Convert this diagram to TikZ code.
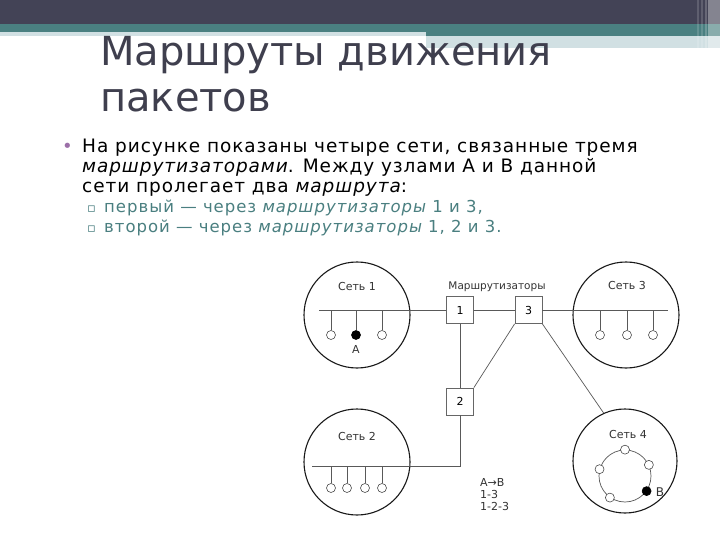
\documentclass[tikz,border=0pt]{standalone}
\usepackage{fontspec}
\setmainfont{DejaVu Sans}
\newfontfamily\bodyfont[LetterSpace=5]{DejaVu Sans}
\newfontfamily\subfont[LetterSpace=6]{DejaVu Sans}
\definecolor{hdrdark}{HTML}{434356}
\definecolor{hdrteal}{HTML}{4A8081}
\definecolor{hdrlight}{HTML}{D1E0E3}
\definecolor{titlecol}{HTML}{3F3F4E}
\definecolor{bulletcol}{HTML}{9C6FA8}
\definecolor{subcol}{HTML}{4A7F80}
\begin{document}
\begin{tikzpicture}[x=1pt,y=-1pt,
  net/.style={circle, draw=black!90, line width=1.1pt, minimum size=106pt, inner sep=0pt},
  router/.style={draw=black!60, line width=0.8pt, minimum size=27pt, inner sep=0pt, fill=white, font=\fontsize{11}{12}\selectfont},
  host/.style={circle, draw=black!70, line width=0.6pt, fill=white, minimum size=9pt, inner sep=0pt},
  hostfill/.style={host, fill=black, draw=black},
  wire/.style={draw=black!65, line width=0.7pt},
  lbl/.style={font=\fontsize{11}{12}\selectfont, text=black!80, inner sep=0pt},
  bodytxt/.style={anchor=base west, inner sep=0pt, font=\bodyfont\fontsize{18.5}{22}\selectfont},
  subtxt/.style={anchor=base west, inner sep=0pt, text=subcol, font=\subfont\fontsize{16.5}{18}\selectfont}]
\useasboundingbox (0,0) rectangle (720,540);
\fill[white] (0,0) rectangle (720,540);
% header bars
\fill[hdrdark] (0,0) rectangle (720,24);
\fill[hdrteal] (0,24) rectangle (720,32);
\fill[hdrteal] (426,32) rectangle (720,36);
\fill[hdrlight] (0,32) rectangle (426,36);
\fill[hdrlight] (426,36) rectangle (720,48);
\fill[white,opacity=0.35] (708,0) rectangle (720,48);
\fill[white,opacity=0.15] (697,0) rectangle (699,48);
\fill[white,opacity=0.15] (701,0) rectangle (703,48);
\fill[white,opacity=0.2] (705,0) rectangle (707,48);
% title
\node[anchor=base west, inner sep=0pt, text=titlecol, font=\fontsize{40}{46}\selectfont] (title1) at (100,66) {Маршруты движения};
\node[anchor=base west, inner sep=0pt, text=titlecol, font=\fontsize{40}{46}\selectfont] (title2) at (100,112) {пакетов};
% body
\node[anchor=base west, inner sep=0pt, text=bulletcol, font=\fontsize{18}{22}\selectfont] (bul) at (62,153) {•};
\node[bodytxt] (l1) at (82,153) {На рисунке показаны четыре сети, связанные тремя};
\node[bodytxt] (l2) at (82,173) {{\itshape маршрутизаторами}. Между узлами А и В данной};
\node[bodytxt] (l3) at (82,193) {сети пролегает два {\itshape маршрута}:};
\node[anchor=base west, inner sep=0pt, text=subcol, font=\fontsize{13}{16}\selectfont] (sb1) at (87,213) {▫};
\node[subtxt] (s1) at (104,213) {первый — через {\itshape маршрутизаторы} 1 и 3,};
\node[anchor=base west, inner sep=0pt, text=subcol, font=\fontsize{13}{16}\selectfont] (sb2) at (87,233) {▫};
\node[subtxt] (s2) at (104,233) {второй — через {\itshape маршрутизаторы} 1, 2 и 3.};
% networks
\node[net] (n1) at (357,315) {};
\node[net] (n3) at (626,315) {};
\node[net] (n2) at (357,462) {};
\node[net, minimum size=104pt] (n4) at (625,461) {};
\node[lbl] (n1l) at (357,286) {Сеть 1};
\node[lbl] (n3l) at (627,285) {Сеть 3};
\node[lbl] (n2l) at (357,436) {Сеть 2};
\node[lbl] (n4l) at (628,434) {Сеть 4};
\node[lbl, font=\fontsize{10.5}{12}\selectfont] (rl) at (497,287) {Маршрутизаторы};
% routers
\node[router] (r1) at (460,310) {1};
\node[router] (r3) at (528.5,310) {3};
\node[router] (r2) at (460,401.5) {2};
% buses
\coordinate (bus1w) at (319,310);
\coordinate (bus3e) at (668,310);
\coordinate (bus2w) at (312,466);
\coordinate (bus2e) at (460,466);
\draw[wire] (bus1w) -- (r1);
\draw[wire] (r1) -- (r3);
\draw[wire] (r3) -- (bus3e);
\draw[wire] (r1) -- (r2);
\draw[wire] (r2) -- (bus2e) -- (bus2w);
\draw[wire] (r3.south west) -- (r2.north east);
\draw[wire] (r3.south east) -- (n4.114);
% net 1 hosts
\coordinate (t1a) at (331,310);
\coordinate (t1b) at (356,310);
\coordinate (t1c) at (382,310);
\node[host] (h1a) at (331,335) {};
\node[hostfill] (h1b) at (356,335) {};
\node[host] (h1c) at (382,335) {};
\draw[wire] (t1a) -- (h1a);
\draw[wire] (t1b) -- (h1b);
\draw[wire] (t1c) -- (h1c);
\node[lbl] (la) at (356,349) {A};
% net 3 hosts
\coordinate (t3a) at (600,310);
\coordinate (t3b) at (627,310);
\coordinate (t3c) at (653,310);
\node[host] (h3a) at (600,335) {};
\node[host] (h3b) at (627,335) {};
\node[host] (h3c) at (653,335) {};
\draw[wire] (t3a) -- (h3a);
\draw[wire] (t3b) -- (h3b);
\draw[wire] (t3c) -- (h3c);
% net 2 hosts
\coordinate (t2a) at (331,466);
\coordinate (t2b) at (347,466);
\coordinate (t2c) at (365,466);
\coordinate (t2d) at (382,466);
\node[host] (h2a) at (331,488) {};
\node[host] (h2b) at (347,488) {};
\node[host] (h2c) at (365,488) {};
\node[host] (h2d) at (382,488) {};
\draw[wire] (t2a) -- (h2a);
\draw[wire] (t2b) -- (h2b);
\draw[wire] (t2c) -- (h2c);
\draw[wire] (t2d) -- (h2d);
% net 4 ring
\node[circle, draw=black!65, line width=0.7pt, minimum size=52pt, inner sep=0pt] (ring) at (625,476) {};
\node[host] (h4a) at (ring.90) {};
\node[host] (h4b) at (ring.25) {};
\node[hostfill] (h4c) at (ring.-35) {};
\node[host] (h4d) at (ring.-125) {};
\node[host] (h4e) at (ring.165) {};
\node[lbl, font=\fontsize{12}{12}\selectfont] (lb) at (660,492) {B};
% legend
\node[lbl, align=left, anchor=north west, font=\fontsize{11}{12}\selectfont] (legend) at (480,478) {A→B\\1-3\\1-2-3};
\end{tikzpicture}
\end{document}
